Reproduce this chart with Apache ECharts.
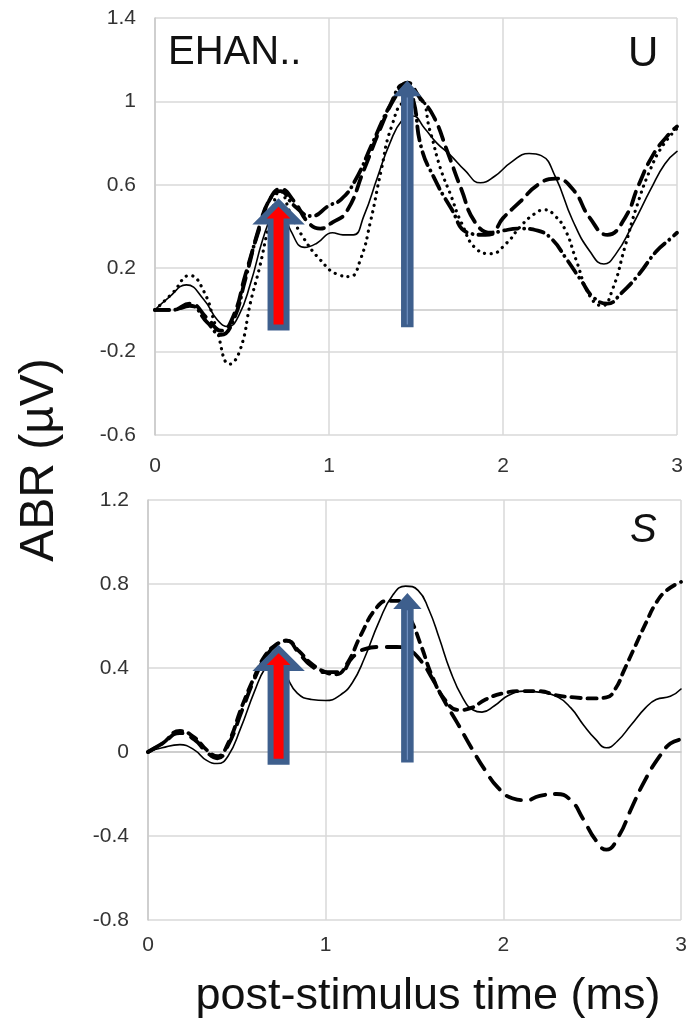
<!DOCTYPE html>
<html>
<head>
<meta charset="utf-8">
<script src="https://cdn.jsdelivr.net/npm/echarts@6/dist/echarts.min.js"></script>
<style>
  html, body { margin: 0; padding: 0; background: #fff; }
  #chart { width: 690px; height: 1027px; }
</style>
</head>
<body>
<div id="chart"></div>
<script>
// ---- data: [time (ms), ABR (uV)] ----
// upper panel (U)
var uSolid = [[0,0],[0.08,0.06],[0.18,0.12],[0.28,0.05],[0.36,-0.05],[0.42,-0.08],[0.48,-0.03],[0.55,0.13],[0.62,0.34],[0.68,0.47],[0.72,0.5],[0.78,0.38],[0.86,0.3],[0.93,0.32],[1.02,0.37],[1.08,0.36],[1.14,0.36],[1.2,0.45],[1.28,0.64],[1.35,0.8],[1.42,0.91],[1.48,0.93],[1.55,0.87],[1.62,0.8],[1.7,0.74],[1.78,0.67],[1.87,0.61],[1.95,0.64],[2.05,0.71],[2.15,0.75],[2.22,0.74],[2.3,0.64],[2.4,0.43],[2.5,0.28],[2.58,0.22],[2.65,0.27],[2.74,0.4],[2.85,0.58],[2.93,0.7],[3,0.76]];
var uDot = [[0,0],[0.1,0.08],[0.2,0.165],[0.28,0.09],[0.35,-0.08],[0.43,-0.26],[0.49,-0.19],[0.55,0.04],[0.6,0.2],[0.66,0.42],[0.72,0.57],[0.78,0.46],[0.85,0.35],[0.95,0.24],[1.05,0.17],[1.12,0.16],[1.18,0.24],[1.24,0.43],[1.3,0.67],[1.36,0.88],[1.44,1],[1.52,1.01],[1.58,0.86],[1.64,0.68],[1.7,0.55],[1.76,0.42],[1.85,0.29],[1.93,0.27],[2.02,0.32],[2.1,0.4],[2.18,0.46],[2.24,0.48],[2.3,0.45],[2.36,0.38],[2.42,0.24],[2.5,0.065],[2.57,0.02],[2.63,0.1],[2.7,0.3],[2.77,0.5],[2.85,0.68],[2.92,0.79],[3,0.87]];
var uDash = [[0,0],[0.1,0],[0.2,0.03],[0.3,-0.04],[0.38,-0.1],[0.45,-0.03],[0.52,0.17],[0.6,0.39],[0.66,0.53],[0.72,0.58],[0.8,0.52],[0.88,0.42],[0.95,0.39],[1.02,0.42],[1.1,0.47],[1.2,0.67],[1.3,0.88],[1.38,1.02],[1.45,1.09],[1.52,1.02],[1.6,0.93],[1.68,0.76],[1.76,0.58],[1.84,0.42],[1.93,0.37],[2,0.44],[2.1,0.52],[2.2,0.6],[2.3,0.63],[2.4,0.58],[2.5,0.44],[2.6,0.36],[2.7,0.44],[2.78,0.6],[2.86,0.74],[2.94,0.83],[3,0.88]];
var uDashDot = [[0,0],[0.1,0],[0.2,0.02],[0.3,-0.06],[0.38,-0.12],[0.45,-0.05],[0.52,0.15],[0.6,0.4],[0.66,0.53],[0.72,0.57],[0.8,0.5],[0.9,0.45],[1,0.5],[1.07,0.53],[1.15,0.62],[1.25,0.8],[1.35,0.98],[1.43,1.08],[1.48,1.02],[1.53,0.78],[1.6,0.64],[1.7,0.49],[1.8,0.37],[1.9,0.36],[2,0.38],[2.1,0.39],[2.2,0.38],[2.28,0.34],[2.36,0.25],[2.45,0.14],[2.52,0.06],[2.6,0.03],[2.68,0.08],[2.78,0.17],[2.88,0.28],[2.96,0.34],[3,0.37]];
// lower panel (S)
var sSolid = [[0,0],[0.08,0.02],[0.18,0.035],[0.26,0.01],[0.33,-0.04],[0.39,-0.055],[0.45,-0.02],[0.52,0.11],[0.6,0.29],[0.66,0.4],[0.72,0.45],[0.78,0.36],[0.84,0.28],[0.92,0.25],[1,0.245],[1.08,0.27],[1.15,0.33],[1.22,0.45],[1.3,0.62],[1.38,0.75],[1.45,0.79],[1.52,0.77],[1.58,0.68],[1.64,0.54],[1.7,0.39],[1.77,0.26],[1.83,0.2],[1.88,0.19],[1.95,0.22],[2.03,0.27],[2.12,0.29],[2.2,0.285],[2.3,0.265],[2.38,0.21],[2.45,0.13],[2.52,0.06],[2.58,0.02],[2.64,0.05],[2.72,0.13],[2.8,0.21],[2.86,0.25],[2.94,0.265],[3,0.3]];
var sShortDash = [[0,0],[0.08,0.04],[0.18,0.1],[0.26,0.07],[0.33,0.01],[0.39,-0.02],[0.45,0.04],[0.53,0.22],[0.6,0.36],[0.66,0.46],[0.72,0.51],[0.78,0.53],[0.85,0.48],[0.92,0.42],[1,0.38],[1.06,0.37],[1.12,0.42],[1.2,0.56],[1.28,0.68],[1.35,0.72],[1.42,0.72],[1.48,0.63],[1.54,0.5],[1.6,0.36],[1.67,0.25],[1.75,0.2],[1.82,0.21],[1.9,0.25],[2,0.28],[2.1,0.29],[2.2,0.29],[2.3,0.27],[2.4,0.26],[2.5,0.255],[2.58,0.26],[2.63,0.3],[2.68,0.39],[2.74,0.5],[2.8,0.61],[2.86,0.71],[2.92,0.77],[3,0.81]];
var sLongDash = [[0,0],[0.08,0.04],[0.18,0.09],[0.26,0.06],[0.33,0],[0.39,-0.03],[0.45,0.03],[0.53,0.2],[0.6,0.35],[0.66,0.45],[0.72,0.51],[0.78,0.53],[0.85,0.47],[0.92,0.41],[1,0.38],[1.08,0.38],[1.15,0.45],[1.22,0.49],[1.3,0.5],[1.4,0.5],[1.46,0.49],[1.53,0.44],[1.6,0.35],[1.67,0.24],[1.74,0.14],[1.82,0.02],[1.9,-0.09],[1.97,-0.17],[2.05,-0.22],[2.13,-0.23],[2.2,-0.21],[2.3,-0.2],[2.38,-0.23],[2.45,-0.32],[2.52,-0.42],[2.58,-0.465],[2.65,-0.4],[2.72,-0.27],[2.8,-0.13],[2.88,-0.02],[2.94,0.04],[3,0.06]];

// arrows: time, base value, tip value (first = red wave I arrow, second = blue wave V arrow)
var uArrowTime = [0.71, 1.45];
var uArrowBase = [-0.085, -0.08];
var uArrowTip = [0.53, 1.1];
var sArrowTime = [0.735, 1.46];
var sArrowBase = [-0.046, -0.046];
var sArrowTip = [0.505, 0.756];

var timeTicks = [0, 3, 1];        // min, max, interval
var uTicks = [-0.6, 1.4, 0.4];
var sTicks = [-0.8, 1.2, 0.4];

var myChart = echarts.init(document.getElementById('chart'), null, { renderer: 'canvas' });

var tickFont = { fontFamily: 'Liberation Sans, Arial, sans-serif', fontSize: 21, color: '#333' };
var gridColor = '#d9d9d9';

function xAxisFor(gi, margin) {
  return {
    type: 'value', gridIndex: gi,
    min: timeTicks[0], max: timeTicks[1], interval: timeTicks[2],
    axisLine: { show: true, lineStyle: { color: '#c8c8c8', width: 1.5 } },
    axisTick: { show: false },
    splitLine: { show: true, lineStyle: { color: gridColor, width: 1.5 } },
    axisLabel: Object.assign({ margin: margin }, tickFont)
  };
}
function yAxisFor(gi, t) {
  return {
    type: 'value', gridIndex: gi,
    min: t[0], max: t[1], interval: t[2],
    axisLine: { show: true, lineStyle: { color: '#c8c8c8', width: 1.5 } },
    axisTick: { show: false },
    splitLine: { show: true, lineStyle: { color: gridColor, width: 1.5 } },
    axisLabel: Object.assign({ margin: 19 }, tickFont)
  };
}

function lineSeries(gi, data, w, dash) {
  return {
    type: 'line', xAxisIndex: gi, yAxisIndex: gi,
    data: data, smooth: 0.5,
    symbol: 'none', silent: true, z: 3,
    lineStyle: { color: '#000', width: w, type: dash || 'solid', cap: 'round', join: 'round' }
  };
}

function arrowData(times, bases, tips) {
  var out = [];
  for (var i = 0; i < times.length; i++) out.push([times[i], bases[i], tips[i]]);
  return out;
}

var arrowBlue = '#3e5f8d';
function renderArrow(params, api) {
  var base = api.coord([api.value(0), api.value(1)]);
  var tip = api.coord([api.value(0), api.value(2)]);
  var x = base[0];
  var red = params.dataIndex === 0;
  var sw = red ? 8 : 5.5, hw = red ? 19 : 12.5, hl = red ? 19 : 14;
  var ty = tip[1] + (red ? 3 : 1);
  var pts = [
    [x - sw, base[1]], [x - sw, ty + hl], [x - hw, ty + hl], [x, ty],
    [x + hw, ty + hl], [x + sw, ty + hl], [x + sw, base[1]]
  ];
  var children = [{
    type: 'polygon', shape: { points: pts },
    style: { fill: red ? '#ff0000' : arrowBlue, stroke: arrowBlue, lineWidth: red ? 6 : 1.5, lineJoin: 'miter' }
  }];
  if (!red) {
    children.push({
      type: 'line', shape: { x1: x, y1: base[1] - 2, x2: x, y2: ty + hl + 2 },
      style: { stroke: '#6f8fc0', lineWidth: 1.2 }
    });
  }
  return { type: 'group', children: children };
}

function arrowSeries(gi, data) {
  return {
    type: 'custom', xAxisIndex: gi, yAxisIndex: gi, silent: true, z: 10,
    renderItem: renderArrow, data: data, encode: { x: 0, y: [1, 2] }, clip: false
  };
}

var bigFont = 'Liberation Sans, Arial, sans-serif';

var option = {
  animation: false,
  backgroundColor: '#fff',
  grid: [
    { left: 155, right: 13, top: 18, height: 417 },
    { left: 148, right: 9, top: 500, height: 420 }
  ],
  xAxis: [xAxisFor(0, 21), xAxisFor(1, 15)],
  yAxis: [yAxisFor(0, uTicks), yAxisFor(1, sTicks)],
  series: [
    lineSeries(0, uSolid, 1.6),
    lineSeries(0, uDot, 3.2, [0.1, 6.5]),
    lineSeries(0, uDash, 3.8, [14, 8]),
    lineSeries(0, uDashDot, 3.8, [14, 6, 0.1, 6]),
    arrowSeries(0, arrowData(uArrowTime, uArrowBase, uArrowTip)),
    lineSeries(1, sSolid, 1.6),
    lineSeries(1, sShortDash, 3.8, [9, 7]),
    lineSeries(1, sLongDash, 3.8, [15, 10]),
    arrowSeries(1, arrowData(sArrowTime, sArrowBase, sArrowTip))
  ],
  graphic: [
    { type: 'text', left: 168, top: 33, style: { text: 'EHAN..', font: '40px ' + bigFont, fill: '#111' } },
    { type: 'text', left: 628, top: 33, style: { text: 'U', font: '42px ' + bigFont, fill: '#111' } },
    { type: 'text', left: 630, top: 511, style: { text: 'S', font: 'italic 40px ' + bigFont, fill: '#111' } },
    { type: 'text', x: 40, y: 460, rotation: Math.PI / 2,
      style: { text: 'ABR (µV)', font: '48px ' + bigFont, fill: '#111', align: 'center', verticalAlign: 'middle' } },
    { type: 'text', x: 428, y: 997,
      style: { text: 'post-stimulus time (ms)', font: '45px ' + bigFont, fill: '#111', align: 'center', verticalAlign: 'middle' } }
  ]
};

myChart.setOption(option);
</script>
</body>
</html>
